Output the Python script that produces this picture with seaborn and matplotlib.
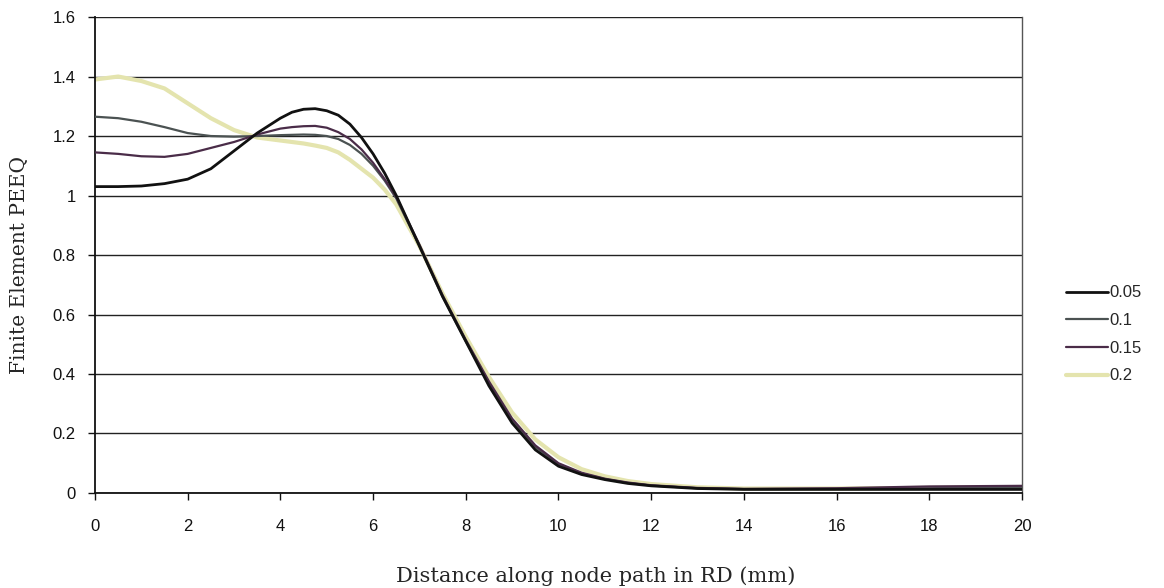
import numpy as np
import pandas as pd
import matplotlib
matplotlib.use("Agg")
import matplotlib.pyplot as plt
import seaborn as sns
from matplotlib.ticker import FuncFormatter

distance = [0, 0.5, 1, 1.5, 2, 2.5, 3, 3.5, 4, 4.25, 4.5, 4.75, 5, 5.25, 5.5, 5.75, 6, 6.25,
            6.5, 7, 7.5, 8, 8.5, 9, 9.5, 10, 10.5, 11, 11.5, 12, 13, 14, 16, 18, 20]
peeq_005 = [1.03, 1.03, 1.032, 1.04, 1.055, 1.09, 1.15, 1.21, 1.26, 1.28, 1.29, 1.292, 1.285,
            1.27, 1.24, 1.195, 1.14, 1.075, 1.0, 0.83, 0.66, 0.51, 0.36, 0.235, 0.145, 0.09,
            0.062, 0.045, 0.032, 0.024, 0.015, 0.012, 0.012, 0.012, 0.012]
peeq_01 = [1.265, 1.26, 1.248, 1.23, 1.21, 1.2, 1.198, 1.2, 1.203, 1.204, 1.205, 1.204, 1.2,
           1.19, 1.17, 1.14, 1.1, 1.05, 0.99, 0.83, 0.66, 0.51, 0.37, 0.245, 0.155, 0.097,
           0.066, 0.047, 0.034, 0.025, 0.016, 0.013, 0.014, 0.016, 0.02]
peeq_015 = [1.145, 1.14, 1.132, 1.13, 1.14, 1.16, 1.18, 1.205, 1.225, 1.23, 1.233, 1.234,
            1.228, 1.213, 1.19, 1.155, 1.11, 1.055, 0.995, 0.835, 0.665, 0.515, 0.375, 0.25,
            0.16, 0.10, 0.068, 0.048, 0.035, 0.026, 0.017, 0.014, 0.016, 0.022, 0.024]
peeq_02 = [1.39, 1.40, 1.385, 1.36, 1.31, 1.26, 1.22, 1.195, 1.185, 1.18, 1.175, 1.168, 1.16,
           1.145, 1.12, 1.09, 1.06, 1.02, 0.97, 0.83, 0.67, 0.525, 0.39, 0.27, 0.18, 0.12,
           0.08, 0.056, 0.04, 0.03, 0.019, 0.015, 0.015, 0.017, 0.02]
series_labels = ["0.05", "0.1", "0.15", "0.2"]

frames = []
for lab, vals in zip(series_labels, [peeq_005, peeq_01, peeq_015, peeq_02]):
    frames.append(pd.DataFrame({"x": distance, "y": vals, "s": lab}))
df = pd.concat(frames, ignore_index=True)

sns.set_style("white")
plt.rcParams['font.family'] = ['Liberation Sans', 'DejaVu Sans']

fig = plt.figure(figsize=(11.64, 5.88), dpi=100)
ax = fig.add_axes([0.0816, 0.1616, 0.7964, 0.8094])

palette = {"0.05": "#111111", "0.1": "#4b5252", "0.15": "#4a2c48", "0.2": "#e4e4ae"}
widths = {"0.05": 2.0, "0.1": 1.6, "0.15": 1.6, "0.2": 3.0}
order = ["0.2", "0.1", "0.15", "0.05"]
for lab in order:
    sub = df[df["s"] == lab]
    sns.lineplot(data=sub, x="x", y="y", color=palette[lab], lw=widths[lab], ax=ax,
                 label=lab, zorder=3 if lab != "0.2" else 2.5)

ax.set_xlim(0, 20)
ax.set_ylim(0, 1.6)
ax.set_xticks(np.arange(0, 21, 2))
ax.set_yticks(np.arange(0, 1.61, 0.2))
ax.yaxis.set_major_formatter(FuncFormatter(lambda v, p: f"{v:g}"))
ax.grid(axis="y", color="#222222", lw=1.0)
ax.grid(axis="x", visible=False)
ax.spines["top"].set_visible(False)
ax.spines["right"].set_color("#555555")
ax.spines["right"].set_linewidth(1.0)
for s in ["left", "bottom"]:
    ax.spines[s].set_color("#111111")
    ax.spines[s].set_linewidth(1.3)
ax.tick_params(axis="both", direction="out", length=5, width=1, colors="#111111",
               labelsize=12, bottom=True, left=True)
ax.tick_params(axis="x", pad=14)
ax.tick_params(axis="y", pad=9)
ax.set_xlabel("Distance along node path in RD (mm)", fontsize=15, family=["DejaVu Serif"])
ax.set_ylabel("Finite Element PEEQ", fontsize=14.5, family=["DejaVu Serif"])
ax.xaxis.set_label_coords(0.54, -0.155)
ax.yaxis.set_label_coords(-0.071, 0.48)

handles, labels = ax.get_legend_handles_labels()
hmap = dict(zip(labels, handles))
ax.get_legend().remove()
fig.legend([hmap[l] for l in series_labels], series_labels, loc="upper left",
           bbox_to_anchor=(0.903, 0.540), frameon=False, fontsize=12,
           handlelength=2.5, handletextpad=0.1, labelspacing=0.76)

fig.savefig("out.png", dpi=100)
